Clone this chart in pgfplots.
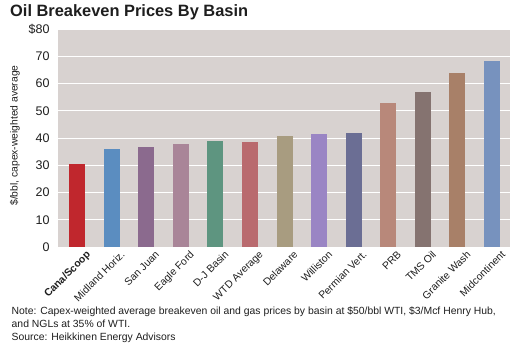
\documentclass[border=0pt]{standalone}
\usepackage{fontspec}
\setmainfont{Liberation Sans}
\usepackage{pgfplots}
\pgfplotsset{compat=1.18}
\definecolor{bg}{RGB}{216,210,208}
\definecolor{txt}{RGB}{30,30,30}
\definecolor{c1}{RGB}{192,39,45}
\definecolor{c2}{RGB}{91,141,192}
\definecolor{c3}{RGB}{139,106,142}
\definecolor{c4}{RGB}{169,133,152}
\definecolor{c5}{RGB}{94,149,128}
\definecolor{c6}{RGB}{185,106,110}
\definecolor{c7}{RGB}{168,156,128}
\definecolor{c8}{RGB}{154,133,196}
\definecolor{c9}{RGB}{107,110,148}
\definecolor{c10}{RGB}{184,136,122}
\definecolor{c11}{RGB}{133,115,112}
\definecolor{c12}{RGB}{168,128,104}
\definecolor{c13}{RGB}{119,146,190}
\begin{document}
\begin{tikzpicture}[x=1pt,y=1pt]
\useasboundingbox (0,0) rectangle (520,-343);
\begin{axis}[
  at={(58pt,-247pt)}, anchor=south west,
  scale only axis, width=452pt, height=218pt,
  ymin=0, ymax=80, xmin=-0.55, xmax=12.52,
  ytick={0,10,...,80},
  yticklabels={0,10,20,30,40,50,60,70,\$80},
  xtick={0,...,12},
  xticklabels={\textbf{Cana/Scoop},Midland Horiz.,San Juan,Eagle Ford,D-J Basin,WTD Average,Delaware,Williston,Permian Vert.,PRB,TMS Oil,Granite Wash,Midcontinent},
  axis background/.style={fill=bg},
  axis line style={draw=none},
  major tick length=0pt,
  ymajorgrids, grid style={white, line width=1pt},
  /pgf/number format/assume math mode=true,
  yticklabel style={font=\fontsize{12.5}{14}\selectfont, text=txt, xshift=-5pt},
  xticklabel style={font=\fontsize{10.4}{12}\selectfont, text=txt, rotate=45, anchor=north east, inner sep=1pt, xshift=5pt, yshift=-7pt},
  ybar, bar width=16pt,
]
\addplot[fill=c1, draw=none, bar shift=0pt] coordinates {(0,30.6)};
\addplot[fill=c2, draw=none, bar shift=0pt] coordinates {(1,35.9)};
\addplot[fill=c3, draw=none, bar shift=0pt] coordinates {(2,36.8)};
\addplot[fill=c4, draw=none, bar shift=0pt] coordinates {(3,37.7)};
\addplot[fill=c5, draw=none, bar shift=0pt] coordinates {(4,38.8)};
\addplot[fill=c6, draw=none, bar shift=0pt] coordinates {(5,38.4)};
\addplot[fill=c7, draw=none, bar shift=0pt] coordinates {(6,40.9)};
\addplot[fill=c8, draw=none, bar shift=0pt] coordinates {(7,41.6)};
\addplot[fill=c9, draw=none, bar shift=0pt] coordinates {(8,41.9)};
\addplot[fill=c10, draw=none, bar shift=0pt] coordinates {(9,52.9)};
\addplot[fill=c11, draw=none, bar shift=0pt] coordinates {(10,56.8)};
\addplot[fill=c12, draw=none, bar shift=0pt] coordinates {(11,63.8)};
\addplot[fill=c13, draw=none, bar shift=0pt] coordinates {(12,68.1)};
\end{axis}
\node[anchor=base west, text=txt, font=\bfseries\fontsize{16.4}{19}\selectfont, inner sep=0pt] at (10,-16.5) {Oil Breakeven Prices By Basin};
\node[rotate=90, text=txt, font=\fontsize{10.3}{12}\selectfont, inner sep=0pt] at (15,-135.5) {\$/bbl, capex-weighted average};
\node[anchor=base west, text=txt, font=\fontsize{10.4}{13}\selectfont, inner sep=0pt] at (11.5,-314) {Note: Capex-weighted average breakeven oil and gas prices by basin at \$50/bbl WTI, \$3/Mcf Henry Hub,};
\node[anchor=base west, text=txt, font=\fontsize{10.4}{13}\selectfont, inner sep=0pt] at (11.5,-327.5) {and NGLs at 35\% of WTI.};
\node[anchor=base west, text=txt, font=\fontsize{10.4}{13}\selectfont, inner sep=0pt] at (11.5,-340.5) {Source: Heikkinen Energy Advisors};
\end{tikzpicture}
\end{document}
